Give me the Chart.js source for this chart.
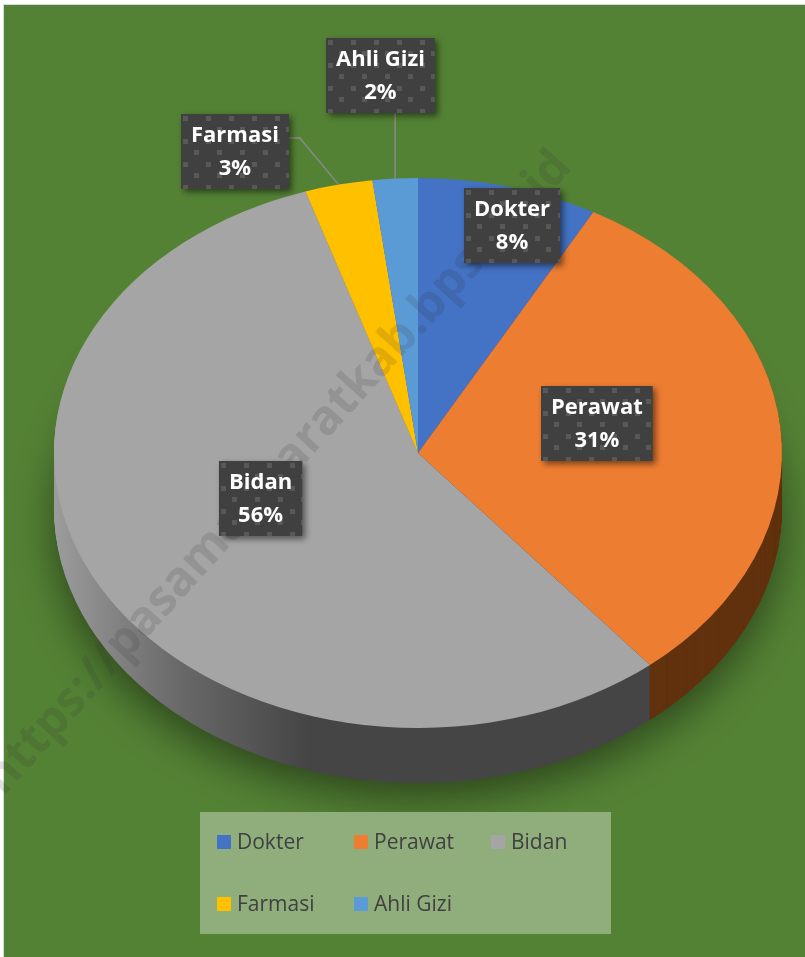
<!DOCTYPE html>
<html>
<head>
<meta charset="utf-8">
<script src="https://cdn.jsdelivr.net/npm/chart.js@4"></script>
<style>
  body { margin: 0; background: #fff; }
  #wrap { position: relative; width: 805px; height: 957px; overflow: hidden; }
  #panel { position: absolute; left: 3px; top: 4px; right: 0; bottom: 0; background: #548235;
           border-left: 1px solid #d9d9d9; border-top: 1px solid #d9d9d9; }
  canvas { position: absolute; left: 0; top: 0; }
</style>
</head>
<body>
<div id="wrap">
  <div id="panel"></div>
  <canvas id="pieChart" width="805" height="957"></canvas>
</div>
<script>
const categories = ["Dokter", "Perawat", "Bidan", "Farmasi", "Ahli Gizi"];
const shares = [8, 31, 56, 3, 2]; // persen
const faceColors = ["#4472C4", "#ED7D31", "#A5A5A5", "#FFC000", "#5B9BD5"];
const sideColors = ["#2b4c86", "#62320f", "#454545", "#9e7700", "#2f6699"];

// where each data label goes: fraction of radius on the slice middle, then a nudge
const labelPlace = [
  { f: 0.86, dx: 16, dy: 2 },
  { f: 0.5, dx: -2, dy: -17 },
  { f: 0.46, dx: -11, dy: -15 },
  { f: 1.0, dx: -104, dy: -33, leader: "elbow" },
  { f: 1.0, dx: -15, dy: -103, leader: "up" }
];

const tilt = 275 / 364;  // vertical squash of the pie
const depth = 55;        // thickness of the pie side

function labelPattern(ctx) {
  const t = document.createElement("canvas");
  t.width = 23; t.height = 23;
  const c = t.getContext("2d");
  c.fillStyle = "#404040";
  c.fillRect(0, 0, 23, 23);
  c.fillStyle = "#585858";
  c.fillRect(2, 2, 5, 5);
  c.fillRect(13, 13, 5, 5);
  return ctx.createPattern(t, "repeat");
}

function slicePath(ctx, a) {
  ctx.moveTo(a.x, a.y);
  ctx.arc(a.x, a.y, a.outerRadius, a.startAngle, a.endAngle);
  ctx.closePath();
}

const pie3d = {
  id: "pie3d",
  beforeDatasetsDraw(chart) {
    const ctx = chart.ctx;
    const arcs = chart.getDatasetMeta(0).data;
    const cy = arcs[0].y;

    // side wall: stacked copies of the slices, deepest first
    for (let d = depth; d >= 1; d--) {
      ctx.save();
      ctx.translate(0, cy + d);
      ctx.scale(1, tilt);
      ctx.translate(0, -cy);
      if (d === depth) {
        ctx.shadowColor = "rgba(0,0,0,0.45)";
        ctx.shadowBlur = 40;
        ctx.shadowOffsetY = 12 / tilt;
      }
      arcs.forEach((a, i) => {
        ctx.beginPath();
        slicePath(ctx, a);
        if (i === 2) {
          const g = ctx.createLinearGradient(a.x - a.outerRadius, 0, a.x, 0);
          g.addColorStop(0, "#9c9c9c");
          g.addColorStop(0.35, "#686868");
          g.addColorStop(0.7, "#454545");
          g.addColorStop(1, "#454545");
          ctx.fillStyle = g;
        } else {
          ctx.fillStyle = sideColors[i];
        }
        ctx.fill();
      });
      ctx.restore();
    }

    // top face: let Chart.js draw the arcs, squashed
    ctx.save();
    ctx.translate(0, cy);
    ctx.scale(1, tilt);
    ctx.translate(0, -cy);
  },
  afterDatasetsDraw(chart) {
    chart.ctx.restore();
  },
  afterDraw(chart) {
    const ctx = chart.ctx;
    const arcs = chart.getDatasetMeta(0).data;
    const total = shares.reduce((s, v) => s + v, 0);

    // watermark
    ctx.save();
    ctx.translate(278, 473);
    ctx.rotate(-47.8 * Math.PI / 180);
    ctx.font = "bold 48px 'Open Sans'";
    ctx.fillStyle = "rgba(45,45,45,0.15)";
    ctx.textAlign = "center";
    ctx.textBaseline = "middle";
    ctx.fillText("https://pasamanbaratkab.bps.go.id", 0, 0);
    ctx.restore();

    // data labels
    const pat = labelPattern(ctx);
    ctx.font = "bold 22px 'Open Sans'";
    arcs.forEach((a, i) => {
      const p = labelPlace[i];
      const mid = (a.startAngle + a.endAngle) / 2;
      const ax = a.x + Math.cos(mid) * a.outerRadius * p.f;
      const ay = a.y + Math.sin(mid) * a.outerRadius * p.f * tilt;
      const bx0 = ax + p.dx, by0 = ay + p.dy;
      const l1 = categories[i];
      const l2 = Math.round(shares[i] / total * 100) + "%";
      const w = Math.max(ctx.measureText(l1).width, ctx.measureText(l2).width) + 20;
      const h = 75;
      const bx = Math.round(bx0 - w / 2), by = Math.round(by0 - h / 2);

      if (p.leader) {
        ctx.save();
        ctx.strokeStyle = "#8a8a8a";
        ctx.lineWidth = 1.5;
        ctx.beginPath();
        ctx.moveTo(ax, ay);
        if (p.leader === "up") {
          ctx.lineTo(ax, by + h);
        } else {
          ctx.lineTo(bx + w + 11, by + 24);
          ctx.lineTo(bx + w, by + 24);
        }
        ctx.stroke();
        ctx.restore();
      }

      ctx.save();
      ctx.shadowColor = "rgba(0,0,0,0.5)";
      ctx.shadowBlur = 6;
      ctx.shadowOffsetX = 3;
      ctx.shadowOffsetY = 3;
      pat.setTransform(new DOMMatrix().translate(bx, by));
      ctx.fillStyle = pat;
      ctx.fillRect(bx, by, w, h);
      ctx.restore();

      ctx.fillStyle = "#ffffff";
      ctx.textAlign = "center";
      ctx.textBaseline = "middle";
      ctx.fillText(l1, bx + w / 2, by + h / 2 - 16);
      ctx.fillText(l2, bx + w / 2, by + h / 2 + 17);
    });

    // legend box
    ctx.fillStyle = "#90ad7c";
    ctx.fillRect(200, 812, 411, 122);
    ctx.font = "21px 'Open Sans'";
    ctx.textAlign = "left";
    ctx.textBaseline = "middle";
    categories.forEach((c, i) => {
      const x = 217 + (i % 3) * 137;
      const y = 842 + Math.floor(i / 3) * 62;
      ctx.fillStyle = faceColors[i];
      ctx.fillRect(x, y - 7, 14, 14);
      ctx.fillStyle = "#404040";
      ctx.fillText(c, x + 20, y + 1);
    });
  }
};

new Chart(document.getElementById("pieChart"), {
  type: "pie",
  data: {
    labels: categories,
    datasets: [{
      data: shares,
      backgroundColor: faceColors,
      borderWidth: 0
    }]
  },
  options: {
    responsive: false,
    animation: false,
    layout: { padding: { left: 54, right: 23, top: 89, bottom: 140 } },
    plugins: {
      legend: { display: false },
      tooltip: { enabled: false }
    }
  },
  plugins: [pie3d]
});
</script>
</body>
</html>
